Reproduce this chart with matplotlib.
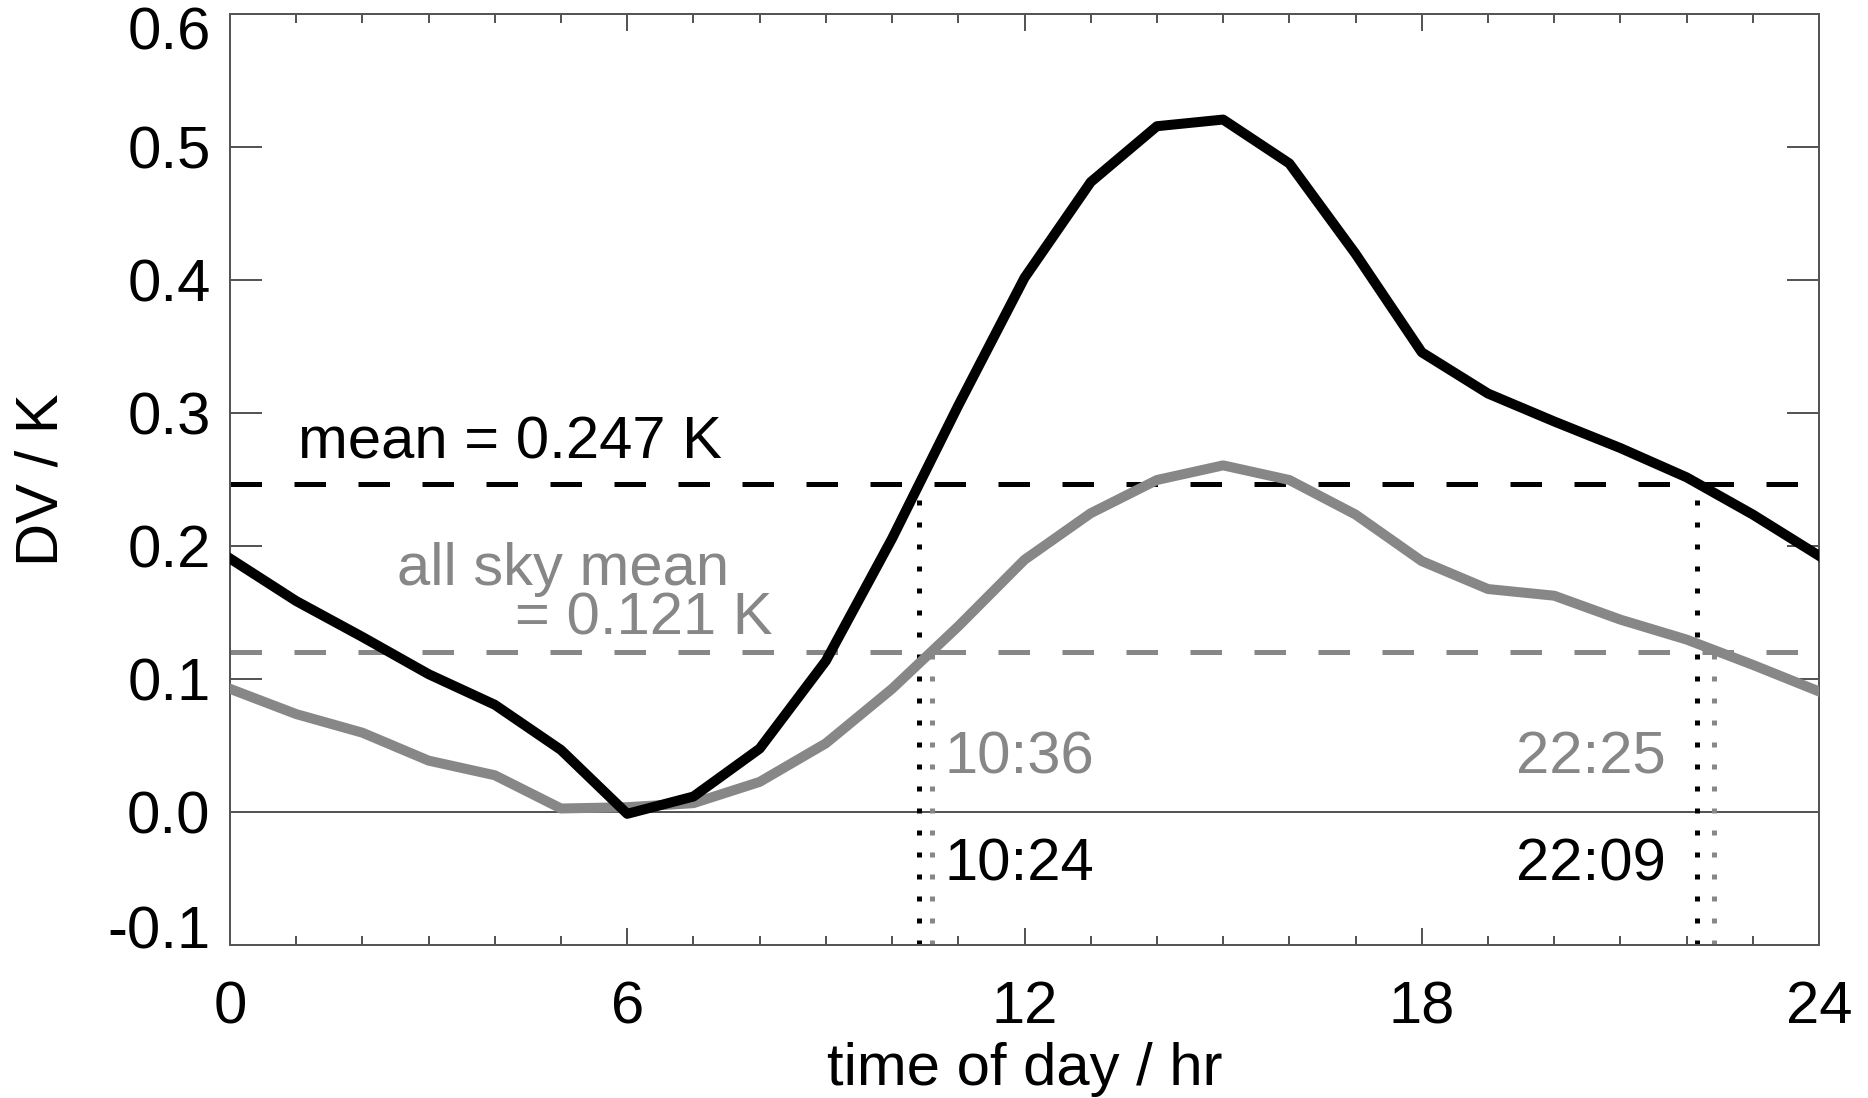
import numpy as np
import matplotlib
matplotlib.use("Agg")
import matplotlib.pyplot as plt
import matplotlib.ticker as ticker
import matplotlib.transforms as transforms

plt.rcParams['font.family'] = ['Liberation Sans', 'DejaVu Sans']

# hores del dia
hores = np.arange(0, 25)
# DV horari (K), corba negra i corba grisa (all sky)
dv = [0.191, 0.159, 0.132, 0.104, 0.081, 0.047, -0.001, 0.012, 0.048, 0.114,
      0.206, 0.306, 0.402, 0.474, 0.516, 0.521, 0.488, 0.420, 0.346, 0.315,
      0.294, 0.274, 0.252, 0.224, 0.193]
dv_cel = [0.093, 0.074, 0.060, 0.039, 0.028, 0.003, 0.004, 0.007, 0.023, 0.052,
          0.093, 0.140, 0.190, 0.225, 0.250, 0.261, 0.250, 0.224, 0.189, 0.168,
          0.163, 0.145, 0.130, 0.111, 0.091]

mitjana = 0.247
mitjana_cel = 0.121
creuaments = [10 + 24/60, 22 + 9/60]       # 10:24, 22:09
creuaments_cel = [10 + 36/60, 22 + 25/60]  # 10:36, 22:25
etiq = ['10:24', '22:09']
etiq_cel = ['10:36', '22:25']

gris = '#878787'
px = 0.72  # punts per pixel a dpi 100

fig = plt.figure(figsize=(18.68, 10.98), dpi=100)
ax = fig.add_axes([0.1231, 0.1389, 0.9738 - 0.1231, 0.9868 - 0.1389])

ax.axhline(0, color='#555555', lw=2*px, zorder=1)
ax.axhline(mitjana, color='black', lw=5*px, dashes=(6.3, 6.5), zorder=2)
ax.axhline(mitjana_cel, color=gris, lw=5*px, dashes=(6.3, 6.5), zorder=2)

for t in creuaments:
    ax.plot([t, t], [-0.1, mitjana], color='black', lw=5*px, dashes=(1, 3.4), zorder=2)
for t in creuaments_cel:
    ax.plot([t, t], [-0.1, mitjana_cel], color=gris, lw=5*px, dashes=(1, 3.4), zorder=2)

ax.plot(hores, dv_cel, color=gris, lw=10*px, zorder=3)
ax.plot(hores, dv, color='black', lw=10*px, zorder=4)

fs = 43
ax.text(1.03, 0.2665, 'mean = 0.247 K', fontsize=fs, color='black', va='baseline')
ax.text(2.53, 0.171, 'all sky mean', fontsize=fs, color=gris, va='baseline')
ax.text(8.2, 0.134, '= 0.121 K', fontsize=fs, color=gris, va='baseline', ha='right')
ax.text(10.79, 0.029, etiq_cel[0], fontsize=fs, color=gris, va='baseline')
ax.text(10.79, -0.0515, etiq[0], fontsize=fs, color='black', va='baseline')
ax.text(21.68, 0.029, etiq_cel[1], fontsize=fs, color=gris, va='baseline', ha='right')
ax.text(21.68, -0.0515, etiq[1], fontsize=fs, color='black', va='baseline', ha='right')

ax.set_xlim(0, 24)
ax.set_ylim(-0.1, 0.6)
ax.xaxis.set_major_locator(ticker.MultipleLocator(6))
ax.xaxis.set_minor_locator(ticker.MultipleLocator(1))
ax.yaxis.set_major_locator(ticker.FixedLocator(np.round(np.arange(-0.1, 0.61, 0.1), 1)))
ax.yaxis.set_major_formatter(ticker.FormatStrFormatter('%.1f'))

for s in ax.spines.values():
    s.set_color('#555555')
    s.set_linewidth(2*px)
ax.tick_params(axis='x', which='major', direction='in', top=True, length=17*px,
               width=2*px, color='#555555', labelsize=fs, pad=25)
ax.tick_params(axis='x', which='minor', direction='in', top=True, length=9*px,
               width=2*px, color='#555555')
ax.tick_params(axis='y', which='major', direction='in', right=True, length=32*px,
               width=2*px, color='#555555', labelsize=fs, pad=14)

# les etiquetes extremes queden dins l'eix
etiquetes_y = ax.get_yticklabels()
etiquetes_y[0].set_transform(etiquetes_y[0].get_transform() +
                             transforms.ScaledTranslation(0, 18/100, fig.dpi_scale_trans))
etiquetes_y[-1].set_transform(etiquetes_y[-1].get_transform() +
                              transforms.ScaledTranslation(0, -14/100, fig.dpi_scale_trans))

fig.text(1024.5/1868, 1 - 1085/1098, 'time of day / hr', fontsize=fs,
         ha='center', va='baseline')
fig.text(42/1868, 1 - 480/1098, 'DV / K', fontsize=fs, rotation=90,
         ha='center', va='center')

fig.savefig('out.png', dpi=100)
